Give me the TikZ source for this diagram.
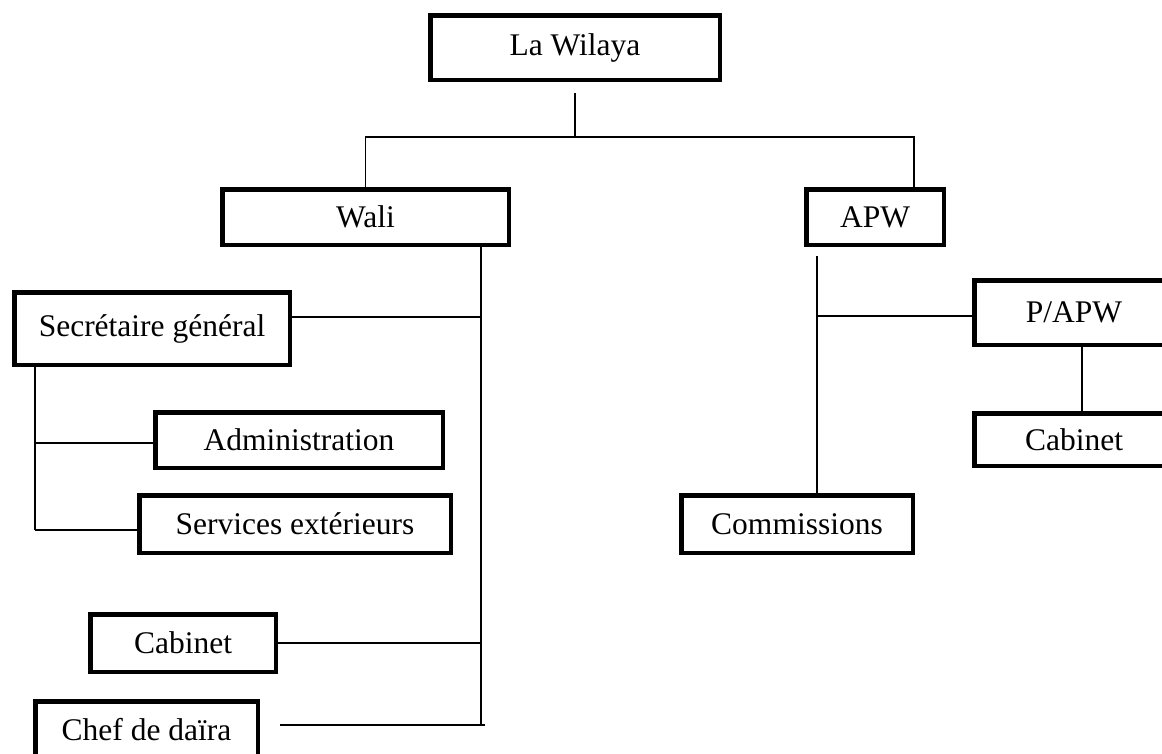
\documentclass[tikz,border=0pt]{standalone}
\usepackage{fontspec}
\setmainfont{Liberation Serif}
\usetikzlibrary{positioning, calc}

\tikzset{
  box/.style={draw, line width=4.5pt, inner sep=0pt, align=center,
    font=\fontsize{31.5}{36}\selectfont},
  link/.style={line width=1.5pt}
}

\begin{document}
\begin{tikzpicture}[x=1pt, y=-1pt]
\useasboundingbox (0,0) rectangle (1162,753);

% the boxes
\node[box, minimum width=289.5pt, minimum height=64.5pt] (wilaya) at (575,47.5) {La Wilaya};
\node[box, minimum width=286.5pt, minimum height=55.5pt] (wali) at (365.5,217) {Wali};
\node[box, minimum width=137.5pt, minimum height=55.5pt] (apw) at (875,217) {APW};

\node[box, minimum width=275.5pt, minimum height=72.5pt] (secgen) at (152,328.5) {Secrétaire général};
\node[box, minimum width=287.5pt, minimum height=55.5pt] (admin) at (299,440) {Administration};
\node[box, minimum width=311.5pt, minimum height=57.5pt] (services) at (295,524) {Services extérieurs};
\node[box, minimum width=185.5pt, minimum height=57.5pt] (cabwali) at (183,643) {Cabinet};
\node[box, minimum width=222.5pt, minimum height=57.5pt] (chef) at (146.5,730) {Chef de daïra};

\node[box, minimum width=231.5pt, minimum height=57.5pt] (comm) at (797,524) {Commissions};
\node[box, minimum width=199.5pt, minimum height=64.5pt] (papw) at (1074,312.5) {P/APW};
\node[box, minimum width=199.5pt, minimum height=52.5pt] (cabapw) at (1074,439.5) {Cabinet};

% top split
\coordinate (split) at (575,137);
\draw[link] ([yshift=-11pt]wilaya.south) -- (split);
\draw[link] (wali.north) |- (split) -| ([xshift=39pt]apw.north);

% Wali side
\coordinate (wtrunk) at (481,725);
\draw[link] ([xshift=115.5pt]wali.south) -- (wtrunk);
\draw[link] ([yshift=11.5pt]secgen.east) -- ([yshift=11.5pt]secgen.east -| wtrunk);
\draw[link] (cabwali.east) -- (cabwali.east -| wtrunk);
\draw[link] ([xshift=20pt,yshift=5pt]chef.east) -- ([xshift=4pt]wtrunk);

\coordinate (strunk) at (35,530);
\draw[link] ([xshift=-117pt]secgen.south) -- (strunk);
\draw[link] ([yshift=-3pt]admin.west -| strunk) -- ([yshift=-3pt]admin.west);
\draw[link] (strunk) -- (strunk -| services.west);

% APW side
\coordinate (atrunk) at (817,256);
\draw[link] (atrunk) -- ([xshift=20pt]comm.north);
\draw[link] ([yshift=-3.5pt]papw.west -| atrunk) -- ([yshift=-3.5pt]papw.west);
\draw[link] ([xshift=8pt]papw.south) -- ([xshift=8pt]cabapw.north);
\end{tikzpicture}
\end{document}
